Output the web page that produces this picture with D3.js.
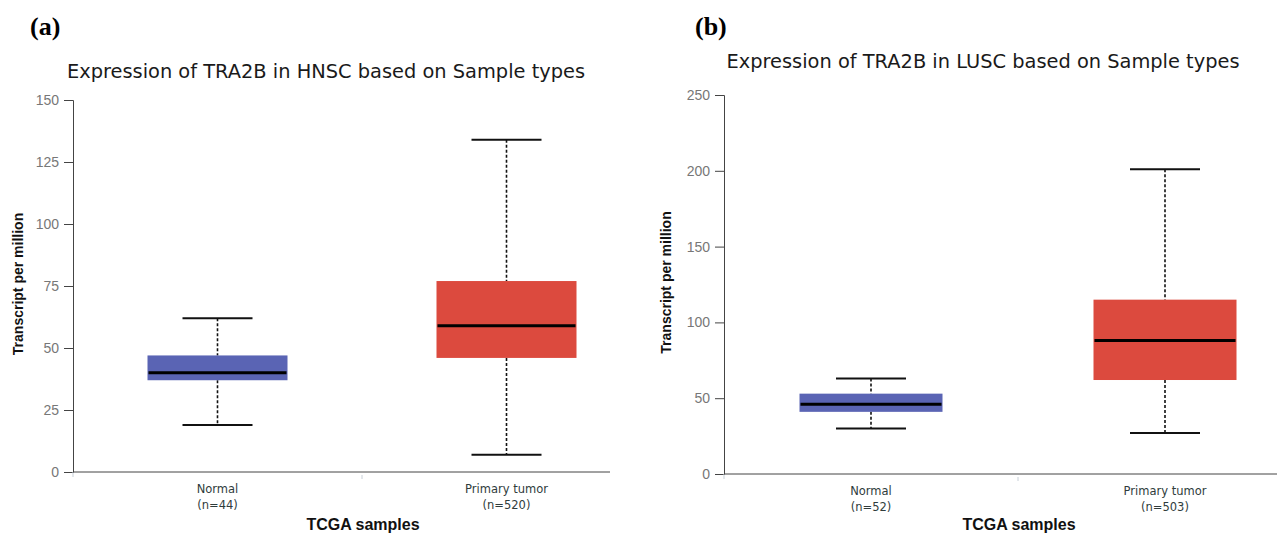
<!DOCTYPE html>
<html>
<head>
<meta charset="utf-8">
<script src="https://cdn.jsdelivr.net/npm/d3@7"></script>
<style>
  body { margin: 0; background: #fff; }
  svg { display: block; }
</style>
</head>
<body>
<div id="chart"></div>
<script>
const width = 1277;
const height = 540;

// values
const categories = ["Normal", "Primary tumor"];
const hnscCounts = [44, 520];
const luscCounts = [52, 503];
// [lower whisker, Q1, median, Q3, upper whisker]
const hnscNormal = [19, 37, 40, 47, 62];
const hnscTumor = [7, 46, 59, 77, 134];
const luscNormal = [30, 41, 46, 53, 63];
const luscTumor = [27, 62, 88, 115, 201];
const hnscTicks = [0, 25, 50, 75, 100, 125, 150];
const luscTicks = [0, 50, 100, 150, 200, 250];
const boxColors = ["#5a64b4", "#dc4a3e"];

const svg = d3.select("#chart").append("svg")
  .attr("width", width)
  .attr("height", height);

function drawPanel(opts) {
  const g = svg.append("g");

  const y = d3.scaleLinear()
    .domain([0, d3.max(opts.ticks)])
    .range([opts.bottom, opts.top]);

  const x = d3.scalePoint()
    .domain(categories)
    .range([opts.left, opts.right])
    .padding(0.5);

  // panel letter
  g.append("text")
    .attr("x", opts.letterX)
    .attr("y", 35)
    .style("font", "bold 26px 'Liberation Serif', serif")
    .text(opts.letter);

  g.append("text")
    .attr("x", opts.titleX)
    .attr("y", opts.titleY)
    .attr("text-anchor", "middle")
    .style("font", "19.4px 'DejaVu Sans', sans-serif")
    .style("fill", "#1a1a1a")
    .text(opts.title);

  // y axis
  const yAxis = g.append("g")
    .attr("transform", `translate(${opts.left},0)`)
    .call(d3.axisLeft(y).tickValues(opts.ticks).tickSize(9).tickPadding(5));
  yAxis.select(".domain").attr("stroke", "#444");
  yAxis.selectAll(".tick line").attr("stroke", "#444");
  yAxis.selectAll(".tick text")
    .style("font", "14px 'Liberation Sans', Arial, sans-serif")
    .attr("fill", "#777");

  g.append("line")
    .attr("x1", opts.left).attr("x2", opts.left)
    .attr("y1", opts.bottom).attr("y2", opts.bottom + 5)
    .attr("stroke", "#c8d0d8");

  g.append("text")
    .attr("transform", `translate(${opts.yLabelX},${(opts.top + opts.bottom) / 2 - 2}) rotate(-90)`)
    .attr("text-anchor", "middle")
    .style("font", "bold 14px 'Liberation Sans', Arial, sans-serif")
    .style("fill", "#111")
    .text("Transcript per million");

  // x axis line
  g.append("line")
    .attr("x1", opts.left).attr("x2", opts.axisEnd)
    .attr("y1", opts.bottom).attr("y2", opts.bottom)
    .attr("stroke", "#444");

  g.append("line")
    .attr("x1", (opts.left + opts.right) / 2).attr("x2", (opts.left + opts.right) / 2)
    .attr("y1", opts.bottom + 3).attr("y2", opts.bottom + 7)
    .attr("stroke", "#c8d0d8");

  const boxes = g.selectAll("g.box")
    .data(opts.stats.map((s, i) => ({ cat: categories[i], s, n: opts.counts[i], color: boxColors[i] })))
    .join("g")
    .attr("class", "box")
    .attr("transform", d => `translate(${x(d.cat)},0)`);

  boxes.append("line")
    .attr("y1", d => y(d.s[4])).attr("y2", d => y(d.s[3]))
    .attr("stroke", "#111").attr("stroke-width", 1.6)
    .attr("stroke-dasharray", "3,2");

  boxes.append("line")
    .attr("y1", d => y(d.s[1])).attr("y2", d => y(d.s[0]))
    .attr("stroke", "#111").attr("stroke-width", 1.6)
    .attr("stroke-dasharray", "3,2");

  boxes.selectAll("line.cap")
    .data(d => [d.s[0], d.s[4]])
    .join("line")
    .attr("class", "cap")
    .attr("x1", -opts.capW / 2).attr("x2", opts.capW / 2)
    .attr("y1", v => y(v)).attr("y2", v => y(v))
    .attr("stroke", "#111").attr("stroke-width", 2);

  boxes.append("rect")
    .attr("x", -opts.boxW / 2)
    .attr("width", opts.boxW)
    .attr("y", d => y(d.s[3]))
    .attr("height", d => y(d.s[1]) - y(d.s[3]))
    .attr("fill", d => d.color);

  boxes.append("line")
    .attr("x1", -opts.boxW / 2 + 1).attr("x2", opts.boxW / 2 - 1)
    .attr("y1", d => y(d.s[2])).attr("y2", d => y(d.s[2]))
    .attr("stroke", "#000").attr("stroke-width", 3);

  const labels = boxes.append("text")
    .attr("text-anchor", "middle")
    .style("font", "11.5px 'DejaVu Sans', sans-serif")
    .style("fill", "#2f3c3c");
  labels.append("tspan")
    .attr("x", 0).attr("y", opts.bottom + 21)
    .text(d => d.cat);
  labels.append("tspan")
    .attr("x", 0).attr("y", opts.bottom + 37)
    .text(d => `(n=${d.n})`);

  g.append("text")
    .attr("x", (opts.left + opts.right) / 2 + 1)
    .attr("y", 530)
    .attr("text-anchor", "middle")
    .style("font", "bold 16px 'Liberation Sans', Arial, sans-serif")
    .style("fill", "#111")
    .text("TCGA samples");
}

drawPanel({
  letter: "(a)", letterX: 30,
  title: "Expression of TRA2B in HNSC based on Sample types", titleX: 326, titleY: 78,
  left: 73, right: 651, axisEnd: 610, top: 100, bottom: 472,
  ticks: hnscTicks, stats: [hnscNormal, hnscTumor], counts: hnscCounts,
  boxW: 140, capW: 70, yLabelX: 23
});

drawPanel({
  letter: "(b)", letterX: 695,
  title: "Expression of TRA2B in LUSC based on Sample types", titleX: 983, titleY: 68,
  left: 724, right: 1312, axisEnd: 1277, top: 95, bottom: 474,
  ticks: luscTicks, stats: [luscNormal, luscTumor], counts: luscCounts,
  boxW: 143, capW: 70, yLabelX: 671
});
</script>
</body>
</html>
